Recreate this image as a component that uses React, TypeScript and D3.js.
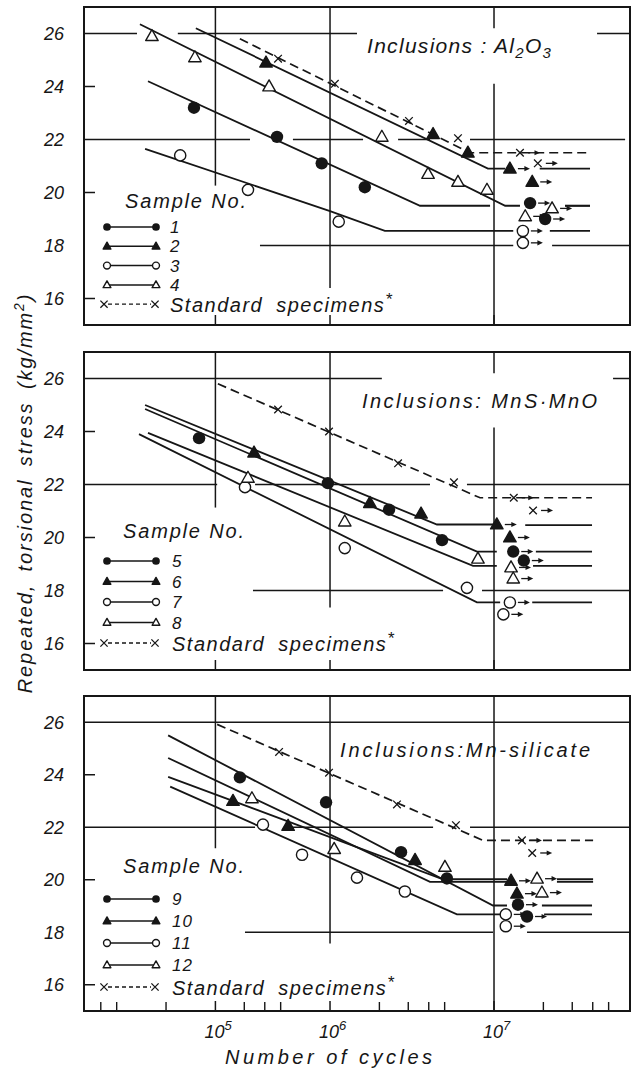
import React from "react";
import * as d3 from "d3";

type P = [number, number];

// x: number of cycles, y: repeated torsional stress (kg/mm^2)

// ---------- Inclusions: Al2O3 ----------
const s1Line: P[] = [[7.76e4, 24.2], [3.54e6, 19.5], [9.46e6, 19.5]];
const s1Tail: P[] = [[2.71e7, 19.5], [3.85e7, 19.5]];
const s1Pts: P[] = [[1.48e5, 23.2], [4.75e5, 22.1], [8.9e5, 21.1], [1.63e6, 20.2]];
const s1Run: P[] = [[1.66e7, 19.6], [2.05e7, 19.0]];

const s2Line: P[] = [[1.52e5, 26.2], [9.18e6, 20.9], [1.17e7, 20.9]];
const s2Tail: P[] = [[1.9e7, 20.9], [3.85e7, 20.9]];
const s2Pts: P[] = [[4.07e5, 24.9], [4.25e6, 22.2], [6.93e6, 21.5]];
const s2Run: P[] = [[1.25e7, 20.9], [1.71e7, 20.4]];

const s3Line: P[] = [[7.45e4, 21.65], [1.0e6, 19.3], [2.16e6, 18.55], [1.31e7, 18.55]];
const s3Tail: P[] = [[2.19e7, 18.55], [3.85e7, 18.55]];
const s3Pts: P[] = [[1.22e5, 21.4], [3.16e5, 20.1], [1.13e6, 18.9]];
const s3Run: P[] = [[1.5e7, 18.55], [1.5e7, 18.1]];

const s4Line: P[] = [[6.93e4, 26.35], [1.17e7, 19.5], [1.44e7, 19.5]];
const s4Tail: P[] = [[2.71e7, 19.5], [3.85e7, 19.5]];
const s4Pts: P[] = [[8.2e4, 25.9], [1.5e5, 25.1], [4.25e5, 24.0], [2.07e6, 22.1], [3.96e6, 20.7], [6.03e6, 20.4], [9.06e6, 20.1]];
const s4Run: P[] = [[2.26e7, 19.4], [1.55e7, 19.1]];

const stdALine: P[] = [[2.82e5, 25.8], [7.14e6, 21.5], [3.74e7, 21.5]];
const stdAPts: P[] = [[4.82e5, 25.05], [1.07e6, 24.1], [3.03e6, 22.7], [6.03e6, 22.05]];
const stdARun: P[] = [[1.44e7, 21.5], [1.85e7, 21.1]];

// ---------- Inclusions: MnS.MnO ----------
const s5Line: P[] = [[7.45e4, 24.85], [7.87e6, 19.47], [1.04e7, 19.47]];
const s5Tail: P[] = [[1.8e7, 19.47], [3.96e7, 19.47]];
const s5Pts: P[] = [[1.59e5, 23.75], [9.7e5, 22.05], [2.29e6, 21.05], [4.82e6, 19.9]];
const s5Run: P[] = [[1.31e7, 19.47], [1.52e7, 19.13]];

const s6Line: P[] = [[7.45e4, 25.0], [4.49e6, 20.49], [1.0e7, 20.49]];
const s6Tail: P[] = [[1.55e7, 20.47], [3.96e7, 20.47]];
const s6Pts: P[] = [[3.44e5, 23.2], [1.75e6, 21.3], [3.59e6, 20.9]];
const s6Run: P[] = [[1.04e7, 20.49], [1.25e7, 20.0]];

const s7Line: P[] = [[6.84e4, 23.9], [7.87e6, 17.55], [1.09e7, 17.55]];
const s7Tail: P[] = [[1.71e7, 17.55], [3.96e7, 17.55]];
const s7Pts: P[] = [[3.03e5, 21.9], [1.23e6, 19.6], [6.84e6, 18.1]];
const s7Run: P[] = [[1.25e7, 17.55], [1.14e7, 17.1]];

const s8Line: P[] = [[7.76e4, 23.95], [7.45e6, 18.93], [1.04e7, 18.93]];
const s8Tail: P[] = [[1.73e7, 18.93], [3.96e7, 18.93]];
const s8Pts: P[] = [[3.16e5, 22.25], [1.23e6, 20.6], [7.98e6, 19.2]];
const s8Run: P[] = [[1.27e7, 18.87], [1.31e7, 18.45]];

const stdBLine: P[] = [[2.07e5, 25.8], [8.22e6, 21.5], [3.96e7, 21.5]];
const stdBPts: P[] = [[4.82e5, 24.83], [9.86e5, 24.0], [2.6e6, 22.8], [5.7e6, 22.08]];
const stdBRun: P[] = [[1.32e7, 21.5], [1.73e7, 21.02]];

// ---------- Inclusions: Mn-silicate ----------
const s9Line: P[] = [[1.03e5, 25.5], [9.86e6, 19.02], [1.2e7, 19.02]];
const s9Tail: P[] = [[1.96e7, 19.02], [3.96e7, 19.02]];
const s9Pts: P[] = [[2.82e5, 23.9], [9.46e5, 22.95], [2.71e6, 21.05], [5.16e6, 20.05]];
const s9Run: P[] = [[1.4e7, 19.05], [1.59e7, 18.6]];

const s10Line: P[] = [[1.03e5, 23.92], [4.89e6, 20.02], [1.2e7, 20.02]];
const s10Tail: P[] = [[2.42e7, 20.02], [4.02e7, 20.02]];
const s10Pts: P[] = [[2.56e5, 23.0], [5.55e5, 22.05], [3.3e6, 20.75]];
const s10Run: P[] = [[1.27e7, 19.96], [1.38e7, 19.47]];

const s11Line: P[] = [[1.06e5, 23.55], [5.94e6, 18.68], [1.09e7, 18.68]];
const s11Tail: P[] = [[2.02e7, 18.68], [3.96e7, 18.68]];
const s11Pts: P[] = [[3.9e5, 22.1], [6.75e5, 20.95], [1.46e6, 20.08], [2.86e6, 19.55]];
const s11Run: P[] = [[1.18e7, 18.68], [1.18e7, 18.23]];

const s12Line: P[] = [[1.03e5, 24.64], [4.07e6, 19.92], [1.2e7, 19.92]];
const s12Tail: P[] = [[2.42e7, 19.92], [4.02e7, 19.92]];
const s12Pts: P[] = [[3.34e5, 23.1], [1.06e6, 21.17], [5.02e6, 20.49]];
const s12Run: P[] = [[1.83e7, 20.04], [1.96e7, 19.51]];

const stdCLine: P[] = [[2.05e5, 25.92], [8.57e6, 21.5], [4.02e7, 21.5]];
const stdCPts: P[] = [[4.89e5, 24.87], [9.86e5, 24.08], [2.56e6, 22.87], [5.86e6, 22.08]];
const stdCRun: P[] = [[1.48e7, 21.5], [1.71e7, 21.02]];

// axes
const yTicks = [16, 18, 20, 22, 24, 26];
const gridValues = [26, 22, 18];
const minorCycles = [4e4, 5e4, 1e5, 3e5, 4e5, 5e5, 2e6, 3e6, 4e6, 5e6, 2e7, 3e7, 4e7, 5e7];
const gridCycles = [2e5, 1e6, 1e7];
// the printed figure puts "10^5" under its first vertical grid line
const xTickLabels = [{ at: 2e5, exp: "5" }, { at: 1e6, exp: "6" }, { at: 1e7, exp: "7" }];

const INK = "#161616";
const FONT = "'Liberation Sans', Arial, Helvetica, sans-serif";
const W = 637, H = 1070;
const XMIN = 3.16e4, XMAX = 6.75e7;

const x = d3.scaleLog().domain([XMIN, XMAX]).range([84, 630]);

type Sample = { name: string; kind: string; line: P[]; tail: P[]; pts: P[]; run: P[] };

const panels = [
  {
    top: 7, bottom: 325,
    samples: [
      { name: "1", kind: "dot", line: s1Line, tail: s1Tail, pts: s1Pts, run: s1Run },
      { name: "2", kind: "tri", line: s2Line, tail: s2Tail, pts: s2Pts, run: s2Run },
      { name: "3", kind: "circ", line: s3Line, tail: s3Tail, pts: s3Pts, run: s3Run },
      { name: "4", kind: "otri", line: s4Line, tail: s4Tail, pts: s4Pts, run: s4Run },
    ] as Sample[],
    std: { line: stdALine, pts: stdAPts, run: stdARun },
    hGrid: [
      [[XMIN, 6.65e4], [1.18e5, 1.46e6], [4.25e7, XMAX]],
      [[XMIN, 3.25e5], [5.94e5, 1.59e6], [2.6e6, 4.07e6], [7.14e6, 6.3e7]],
      [[3.74e5, 1.31e7], [2.26e7, XMAX]],
    ],
    vGrid: [[[27, 20.26]], [[27, 16.4]], [[27, 26.2], [24.1, 15]]],
    legend: { head: 208, headX: 125, first: 227, step: 19.3, numX: 170 },
    title: "al",
  },
  {
    top: 352, bottom: 670,
    samples: [
      { name: "5", kind: "dot", line: s5Line, tail: s5Tail, pts: s5Pts, run: s5Run },
      { name: "6", kind: "tri", line: s6Line, tail: s6Tail, pts: s6Pts, run: s6Run },
      { name: "7", kind: "circ", line: s7Line, tail: s7Tail, pts: s7Pts, run: s7Run },
      { name: "8", kind: "otri", line: s8Line, tail: s8Tail, pts: s8Pts, run: s8Run },
    ] as Sample[],
    std: { line: stdBLine, pts: stdBPts, run: stdBRun },
    hGrid: [
      [[XMIN, 2.07e6], [5.32e7, XMAX]],
      [[XMIN, 2.05e5], [3.49e5, 4.07e6], [6.84e6, XMAX]],
      [[3.39e5, 4.89e6], [8.45e6, XMAX]],
    ],
    vGrid: [[[27, 21.13]], [[27, 17.36]], [[27, 26.2], [24.15, 15]]],
    legend: { head: 538, headX: 123, first: 561, step: 20.5, numX: 172 },
    title: "mns",
  },
  {
    top: 696, bottom: 1011,
    samples: [
      { name: "9", kind: "dot", line: s9Line, tail: s9Tail, pts: s9Pts, run: s9Run },
      { name: "10", kind: "tri", line: s10Line, tail: s10Tail, pts: s10Pts, run: s10Run },
      { name: "11", kind: "circ", line: s11Line, tail: s11Tail, pts: s11Pts, run: s11Run },
      { name: "12", kind: "otri", line: s12Line, tail: s12Tail, pts: s12Pts, run: s12Run },
    ] as Sample[],
    std: { line: stdCLine, pts: stdCPts, run: stdCRun },
    hGrid: [
      [[XMIN, XMAX]],
      [[XMIN, 3.49e5], [5.7e5, 4.25e6], [7.14e6, XMAX]],
      [[3.03e5, 9.86e6], [1.59e7, XMAX]],
    ],
    vGrid: [[[27, 21.2]], [[27, 17.57]], [[27, 15]]],
    legend: { head: 873, headX: 123, first: 899, step: 22, numX: 172 },
    title: "mnsi",
  },
];

function Marker({ kind, cx, cy, s = 1 }: { kind: string; cx: number; cy: number; s?: number }) {
  if (kind === "dot") return <circle cx={cx} cy={cy} r={6.2 * s} fill={INK} />;
  if (kind === "circ")
    return <circle cx={cx} cy={cy} r={5.6 * s} fill="#fff" stroke={INK} strokeWidth={1.4} />;
  if (kind === "tri" || kind === "otri") {
    const h = 11 * s, w = 12.5 * s;
    const d = `M${cx},${cy - h * 0.6}L${cx + w / 2},${cy + h * 0.4}L${cx - w / 2},${cy + h * 0.4}Z`;
    return <path d={d} fill={kind === "tri" ? INK : "#fff"} stroke={INK} strokeWidth={1.4} strokeLinejoin="round" />;
  }
  const a = 3.8 * s;
  return (
    <path d={`M${cx - a},${cy - a}L${cx + a},${cy + a}M${cx - a},${cy + a}L${cx + a},${cy - a}`}
      stroke={INK} strokeWidth={1.3} fill="none" />
  );
}

function Arrow({ cx, cy }: { cx: number; cy: number }) {
  return (
    <g>
      <line x1={cx + 8} x2={cx + 16} y1={cy} y2={cy} stroke={INK} strokeWidth={1.3} />
      <path d={`M${cx + 20},${cy}L${cx + 14.5},${cy - 2.6}L${cx + 14.5},${cy + 2.6}Z`} fill={INK} />
    </g>
  );
}

function Title({ which }: { which: string }) {
  const common = { fill: INK, fontFamily: FONT, fontStyle: "italic" as const, fontSize: 21 };
  if (which === "al")
    return (
      <text x={367} y={53} {...common} letterSpacing={1.3}>
        Inclusions : Al<tspan dy={5} fontSize={15}>2</tspan>
        <tspan dy={-5}>O</tspan><tspan dy={5} fontSize={15}>3</tspan>
      </text>
    );
  if (which === "mns")
    return (
      <text x={362} y={408} {...common} fontSize={20} textLength={235} lengthAdjust="spacing">
        Inclusions: MnS·MnO
      </text>
    );
  return (
    <text x={340} y={757} {...common} fontSize={20} textLength={250} lengthAdjust="spacing">
      Inclusions:Mn-silicate
    </text>
  );
}

function Panel({ p, last }: { p: (typeof panels)[number]; last: boolean }) {
  const y = d3.scaleLinear().domain([15, 27]).range([p.bottom, p.top]);
  const line = d3.line<P>().x((d) => x(d[0])).y((d) => y(d[1]));
  const L = p.legend;
  const rowY = (i: number) => L.first + i * L.step;

  return (
    <g>
      {/* grid */}
      {gridValues.map((g, i) =>
        p.hGrid[i].map((seg, j) => (
          <line key={`h${g}-${j}`} x1={x(seg[0])} x2={x(seg[1])} y1={y(g)} y2={y(g)}
            stroke={INK} strokeWidth={1.5} />
        ))
      )}
      {yTicks.filter((t) => !gridValues.includes(t)).map((t) => (
        <line key={`t${t}`} x1={84} x2={95} y1={y(t)} y2={y(t)} stroke={INK} strokeWidth={1.5} />
      ))}
      {gridCycles.map((c, i) =>
        p.vGrid[i].map((seg, j) => (
          <line key={`v${c}-${j}`} x1={x(c)} x2={x(c)} y1={y(seg[0])} y2={y(seg[1])}
            stroke={INK} strokeWidth={1.5} />
        ))
      )}
      {gridCycles.map((c) => (
        <line key={`st${c}`} x1={x(c)} x2={x(c)} y1={p.bottom} y2={p.bottom - 10} stroke={INK} strokeWidth={1.5} />
      ))}
      {last &&
        minorCycles.map((c) => (
          <line key={`m${c}`} x1={x(c)} x2={x(c)} y1={p.bottom} y2={p.bottom - 9} stroke={INK} strokeWidth={1.4} />
        ))}
      <rect x={84} y={p.top} width={546} height={p.bottom - p.top} fill="none" stroke={INK} strokeWidth={2} />

      {/* y tick labels */}
      {yTicks.map((t) => (
        <text key={`yl${t}`} x={64} y={y(t) + 6.5} textAnchor="end" fontFamily={FONT} fontStyle="italic"
          fontSize={18} fill={INK}>{t}</text>
      ))}

      {/* standard specimens */}
      <path d={line(p.std.line) || ""} fill="none" stroke={INK} strokeWidth={1.7} strokeDasharray="9 5" />
      {p.std.pts.map((d, i) => <Marker key={`sp${i}`} kind="x" cx={x(d[0])} cy={y(d[1])} />)}
      {p.std.run.map((d, i) => (
        <g key={`sr${i}`}>
          <Marker kind="x" cx={x(d[0])} cy={y(d[1])} />
          <Arrow cx={x(d[0])} cy={y(d[1])} />
        </g>
      ))}

      {/* samples */}
      {p.samples.map((s) => (
        <g key={`l${s.name}`}>
          <path d={line(s.line) || ""} fill="none" stroke={INK} strokeWidth={1.8} />
          <path d={line(s.tail) || ""} fill="none" stroke={INK} strokeWidth={1.8} />
        </g>
      ))}
      {p.samples.map((s) => (
        <g key={`p${s.name}`}>
          {s.pts.map((d, i) => <Marker key={i} kind={s.kind} cx={x(d[0])} cy={y(d[1])} />)}
          {s.run.map((d, i) => (
            <g key={`r${i}`}>
              <Marker kind={s.kind} cx={x(d[0])} cy={y(d[1])} />
              <Arrow cx={x(d[0])} cy={y(d[1])} />
            </g>
          ))}
        </g>
      ))}

      <Title which={p.title} />

      {/* legend */}
      <text x={L.headX} y={L.head} fontFamily={FONT} fontStyle="italic" fontSize={20} fill={INK}
        textLength={121} lengthAdjust="spacing">Sample No.</text>
      {p.samples.map((s, i) => (
        <g key={`lg${s.name}`}>
          <line x1={107} x2={156} y1={rowY(i)} y2={rowY(i)} stroke={INK} strokeWidth={1.5} />
          <Marker kind={s.kind} cx={107} cy={rowY(i)} s={0.62} />
          <Marker kind={s.kind} cx={156} cy={rowY(i)} s={0.62} />
          <text x={L.numX} y={rowY(i) + 6} fontFamily={FONT} fontStyle="italic" fontSize={17} fill={INK}
            letterSpacing={1}>{s.name}</text>
        </g>
      ))}
      <g>
        <line x1={108} x2={151} y1={rowY(4)} y2={rowY(4)} stroke={INK} strokeWidth={1.3} strokeDasharray="4 3" />
        <Marker kind="x" cx={104} cy={rowY(4)} s={0.95} />
        <Marker kind="x" cx={155} cy={rowY(4)} s={0.95} />
        <text x={L.numX} y={rowY(4) + 8} fontFamily={FONT} fontStyle="italic" fontSize={20} fill={INK}
          letterSpacing={1.5} wordSpacing={6}>
          Standard specimens<tspan dy={-7} fontSize={17}>*</tspan>
        </text>
      </g>
    </g>
  );
}

export default function App() {
  return (
    <svg width={W} height={H} viewBox={`0 0 ${W} ${H}`}
      style={{ position: "absolute", left: 0, top: 0, background: "#fff" }}>
      <rect width={W} height={H} fill="#fff" />
      {panels.map((p, i) => <Panel key={i} p={p} last={i === panels.length - 1} />)}

      {xTickLabels.map((t) => (
        <text key={t.exp} x={x(t.at) - 11} y={1038} fontFamily={FONT} fontStyle="italic" fontSize={18} fill={INK}>
          10<tspan dy={-8} fontSize={13}>{t.exp}</tspan>
        </text>
      ))}
      <text x={225} y={1064} fontFamily={FONT} fontStyle="italic" fontSize={20} fill={INK}
        textLength={207} lengthAdjust="spacing">Number of cycles</text>

      <text transform="translate(32,493) rotate(-90)" textAnchor="middle" fontFamily={FONT} fontStyle="italic"
        fontSize={20} fill={INK} letterSpacing={1.9} wordSpacing={5}>
        Repeated, torsional stress (kg/mm<tspan dy={-8} fontSize={14}>2</tspan><tspan dy={8}>)</tspan>
      </text>
    </svg>
  );
}
